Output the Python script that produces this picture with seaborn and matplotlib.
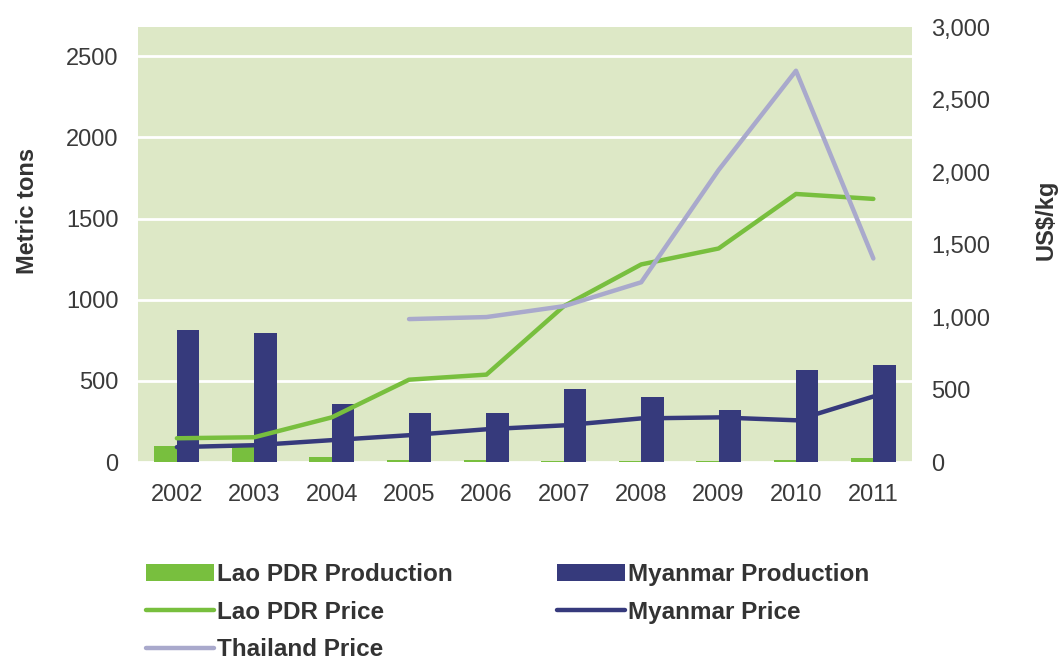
import numpy as np
import pandas as pd
import matplotlib
matplotlib.use("Agg")
import matplotlib.pyplot as plt
import seaborn as sns
from matplotlib.patches import Patch
from matplotlib.lines import Line2D
from matplotlib.ticker import FuncFormatter

years = ["2002", "2003", "2004", "2005", "2006", "2007", "2008", "2009", "2010", "2011"]

# production, metric tons (left axis)
lao_prod = [99, 93, 31, 10, 10, 8, 8, 8, 15, 22]
myanmar_prod = [815, 796, 358, 302, 302, 450, 401, 321, 568, 599]

# prices, US$/kg (right axis)
lao_price = [164, 171, 308, 568, 603, 1075, 1363, 1473, 1849, 1815]
myanmar_price = [103, 116, 151, 185, 226, 253, 301, 308, 288, 452]
thai_price = [np.nan, np.nan, np.nan, 986, 1000, 1075, 1240, 2014, 2699, 1404]

green = "#78bf3e"
navy = "#363a7c"
lavender = "#a9a9cc"
bg = "#dde8c6"

sns.set_style("white")
plt.rcParams["font.family"] = ["Liberation Sans", "DejaVu Sans"]

prod = pd.DataFrame({
    "year": years * 2,
    "tons": lao_prod + myanmar_prod,
    "series": ["Lao PDR Production"] * len(years) + ["Myanmar Production"] * len(years),
})

fig = plt.figure(figsize=(10.63, 6.61), dpi=100)
ax = fig.add_axes([0.130, 0.301, 0.728, 0.658])
ax.set_facecolor(bg)

sns.barplot(data=prod, x="year", y="tons", hue="series",
            palette=[green, navy], width=0.58, saturation=1,
            edgecolor="none", legend=False, ax=ax)

ax.set_ylim(0, 2680)
ax.set_yticks([0, 500, 1000, 1500, 2000, 2500])
ax.yaxis.grid(True, color="white", linewidth=2)
ax.set_axisbelow(True)
ax.set_xlim(-0.5, len(years) - 0.5)
for s in ax.spines.values():
    s.set_visible(False)
ax.tick_params(axis="both", length=0, labelsize=17, labelcolor="#3a3a3a")
ax.tick_params(axis="x", pad=16)
ax.tick_params(axis="y", pad=14)
ax.set_xlabel("")
ax.set_ylabel("Metric tons", fontsize=17, fontweight="bold", color="#333333")
ax.yaxis.set_label_coords(-0.128, 0.577)

ax2 = ax.twinx()
pos = np.arange(len(years))
sns.lineplot(x=pos, y=lao_price, color=green, linewidth=3.2, ax=ax2)
sns.lineplot(x=pos, y=myanmar_price, color=navy, linewidth=3.2, ax=ax2)
sns.lineplot(x=pos, y=thai_price, color=lavender, linewidth=3.2, ax=ax2)
ax2.set_ylim(0, 2990)
ax2.set_yticks([0, 500, 1000, 1500, 2000, 2500, 3000])
ax2.yaxis.set_major_formatter(FuncFormatter(lambda v, p: f"{int(v):,}"))
ax2.tick_params(axis="y", length=0, labelsize=17, labelcolor="#3a3a3a", pad=14)
for s in ax2.spines.values():
    s.set_visible(False)
ax2.set_ylabel("US$/kg", fontsize=17, fontweight="bold", color="#333333")
ax2.yaxis.set_label_coords(1.159, 0.557)

handles = [
    Patch(facecolor=green, edgecolor="none"),
    Line2D([0], [0], color=green, linewidth=3.2),
    Line2D([0], [0], color=lavender, linewidth=3.2),
    Patch(facecolor=navy, edgecolor="none"),
    Line2D([0], [0], color=navy, linewidth=3.2),
]
labels = ["Lao PDR Production", "Lao PDR Price", "Thailand Price",
          "Myanmar Production", "Myanmar Price"]
fig.legend(handles, labels, loc="upper left", bbox_to_anchor=(0.128, 0.163),
           ncol=2, frameon=False, handlelength=2.8, handletextpad=0.15,
           columnspacing=4.25, labelspacing=0.6, borderaxespad=0,
           prop={"weight": "bold", "size": 17.5})
for t in fig.legends[0].get_texts():
    t.set_color("#333333")

fig.savefig("out.png", dpi=100)
